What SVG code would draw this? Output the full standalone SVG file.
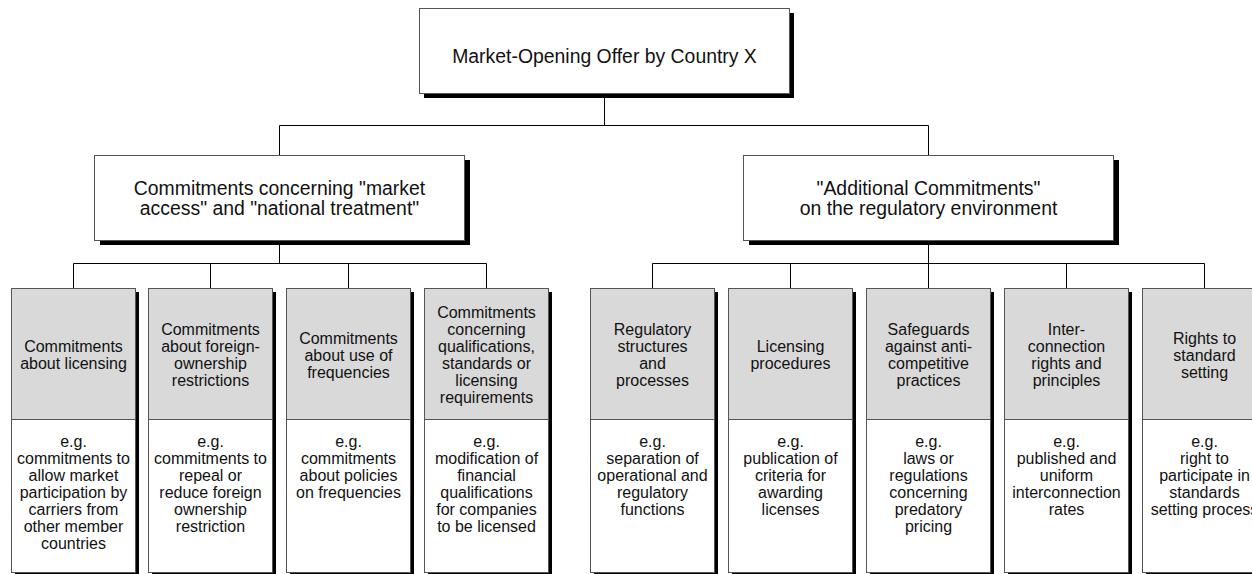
<svg xmlns="http://www.w3.org/2000/svg" width="1252" height="574" viewBox="0 0 1252 574">
  <style>
    text { font-family: "Liberation Sans", Arial, sans-serif; fill: #111; text-anchor: middle; }
    .big { font-size: 19.4px; }
    .small { font-size: 16px; }
    .box { fill: #fff; stroke: #555; stroke-width: 1; }
    .head { fill: #d9d9d9; stroke: #555; stroke-width: 1; }
    .shadow { fill: #000; }
    .conn { fill: none; stroke: #000; stroke-width: 1; }
  </style>
  <defs>
    <!-- leaf card: shadow, grey heading band, white example band -->
    <g id="leaf">
      <rect class="shadow" x="4" y="4" width="124" height="284"/>
      <rect class="box" x="0.5" y="0.5" width="124" height="284"/>
      <rect class="head" x="0.5" y="0.5" width="124" height="131"/>
    </g>
  </defs>
  <rect width="1252" height="574" fill="#fff"/>

  <g id="connectors">
    <path class="conn" d="M604.5 93 V125.5 M279.5 125.5 H928.5 M279.5 125.5 V155 M928.5 125.5 V155"/>
    <path class="conn" d="M279.5 240 V263.5 M73.5 263.5 H486.5 M73.5 263.5 V288 M210.5 263.5 V288 M348.5 263.5 V288 M486.5 263.5 V288"/>
    <path class="conn" d="M928.5 240 V263.5 M652.5 263.5 H1204.5 M652.5 263.5 V288 M790.5 263.5 V288 M928.5 263.5 V288 M1066.5 263.5 V288 M1204.5 263.5 V288"/>
  </g>

  <g id="root">
    <rect class="shadow" x="424" y="13" width="370" height="85"/>
    <rect class="box" x="419.5" y="8.5" width="370" height="85"/>
    <text class="big" x="604.5" y="63">Market-Opening Offer by Country X</text>
  </g>

  <g id="market-access">
    <rect class="shadow" x="100" y="160" width="370" height="85"/>
    <rect class="box" x="94.5" y="155.5" width="370" height="85"/>
    <text class="big" x="279.5" y="195">Commitments concerning "market</text>
    <text class="big" x="279.5" y="215">access" and "national treatment"</text>
  </g>

  <g id="additional">
    <rect class="shadow" x="749" y="160" width="370" height="85"/>
    <rect class="box" x="743.5" y="155.5" width="370" height="85"/>
    <text class="big" x="928.5" y="195">"Additional Commitments"</text>
    <text class="big" x="928.5" y="215">on the regulatory environment</text>
  </g>

  <g id="licensing" class="small">
    <use href="#leaf" x="11" y="288"/>
    <text x="73.5" y="352">Commitments</text>
    <text x="73.5" y="369">about licensing</text>
    <text x="73.5" y="446.5">e.g.</text>
    <text x="73.5" y="463.5">commitments to</text>
    <text x="73.5" y="480.5">allow market</text>
    <text x="73.5" y="497.5">participation by</text>
    <text x="73.5" y="514.5">carriers from</text>
    <text x="73.5" y="531.5">other member</text>
    <text x="73.5" y="548.5">countries</text>
  </g>

  <g id="foreign-ownership" class="small">
    <use href="#leaf" x="148" y="288"/>
    <text x="210.5" y="335">Commitments</text>
    <text x="210.5" y="352">about foreign-</text>
    <text x="210.5" y="369">ownership</text>
    <text x="210.5" y="386">restrictions</text>
    <text x="210.5" y="446.5">e.g.</text>
    <text x="210.5" y="463.5">commitments to</text>
    <text x="210.5" y="480.5">repeal or</text>
    <text x="210.5" y="497.5">reduce foreign</text>
    <text x="210.5" y="514.5">ownership</text>
    <text x="210.5" y="531.5">restriction</text>
  </g>

  <g id="frequencies" class="small">
    <use href="#leaf" x="286" y="288"/>
    <text x="348.5" y="343.5">Commitments</text>
    <text x="348.5" y="360.5">about use of</text>
    <text x="348.5" y="377.5">frequencies</text>
    <text x="348.5" y="446.5">e.g.</text>
    <text x="348.5" y="463.5">commitments</text>
    <text x="348.5" y="480.5">about policies</text>
    <text x="348.5" y="497.5">on frequencies</text>
  </g>

  <g id="qualifications" class="small">
    <use href="#leaf" x="424" y="288"/>
    <text x="486.5" y="318">Commitments</text>
    <text x="486.5" y="335">concerning</text>
    <text x="486.5" y="352">qualifications,</text>
    <text x="486.5" y="369">standards or</text>
    <text x="486.5" y="386">licensing</text>
    <text x="486.5" y="403">requirements</text>
    <text x="486.5" y="446.5">e.g.</text>
    <text x="486.5" y="463.5">modification of</text>
    <text x="486.5" y="480.5">financial</text>
    <text x="486.5" y="497.5">qualifications</text>
    <text x="486.5" y="514.5">for companies</text>
    <text x="486.5" y="531.5">to be licensed</text>
  </g>

  <g id="regulatory-structures" class="small">
    <use href="#leaf" x="590" y="288"/>
    <text x="652.5" y="335">Regulatory</text>
    <text x="652.5" y="352">structures</text>
    <text x="652.5" y="369">and</text>
    <text x="652.5" y="386">processes</text>
    <text x="652.5" y="446.5">e.g.</text>
    <text x="652.5" y="463.5">separation of</text>
    <text x="652.5" y="480.5">operational and</text>
    <text x="652.5" y="497.5">regulatory</text>
    <text x="652.5" y="514.5">functions</text>
  </g>

  <g id="licensing-procedures" class="small">
    <use href="#leaf" x="728" y="288"/>
    <text x="790.5" y="352">Licensing</text>
    <text x="790.5" y="369">procedures</text>
    <text x="790.5" y="446.5">e.g.</text>
    <text x="790.5" y="463.5">publication of</text>
    <text x="790.5" y="480.5">criteria for</text>
    <text x="790.5" y="497.5">awarding</text>
    <text x="790.5" y="514.5">licenses</text>
  </g>

  <g id="safeguards" class="small">
    <use href="#leaf" x="866" y="288"/>
    <text x="928.5" y="335">Safeguards</text>
    <text x="928.5" y="352">against anti-</text>
    <text x="928.5" y="369">competitive</text>
    <text x="928.5" y="386">practices</text>
    <text x="928.5" y="446.5">e.g.</text>
    <text x="928.5" y="463.5">laws or</text>
    <text x="928.5" y="480.5">regulations</text>
    <text x="928.5" y="497.5">concerning</text>
    <text x="928.5" y="514.5">predatory</text>
    <text x="928.5" y="531.5">pricing</text>
  </g>

  <g id="interconnection" class="small">
    <use href="#leaf" x="1004" y="288"/>
    <text x="1066.5" y="335">Inter-</text>
    <text x="1066.5" y="352">connection</text>
    <text x="1066.5" y="369">rights and</text>
    <text x="1066.5" y="386">principles</text>
    <text x="1066.5" y="446.5">e.g.</text>
    <text x="1066.5" y="463.5">published and</text>
    <text x="1066.5" y="480.5">uniform</text>
    <text x="1066.5" y="497.5">interconnection</text>
    <text x="1066.5" y="514.5">rates</text>
  </g>

  <g id="standard-setting" class="small">
    <use href="#leaf" x="1142" y="288"/>
    <text x="1204.5" y="343.5">Rights to</text>
    <text x="1204.5" y="360.5">standard</text>
    <text x="1204.5" y="377.5">setting</text>
    <text x="1204.5" y="446.5">e.g.</text>
    <text x="1204.5" y="463.5">right to</text>
    <text x="1204.5" y="480.5">participate in</text>
    <text x="1204.5" y="497.5">standards</text>
    <text x="1204.5" y="514.5">setting process</text>
  </g>
</svg>
